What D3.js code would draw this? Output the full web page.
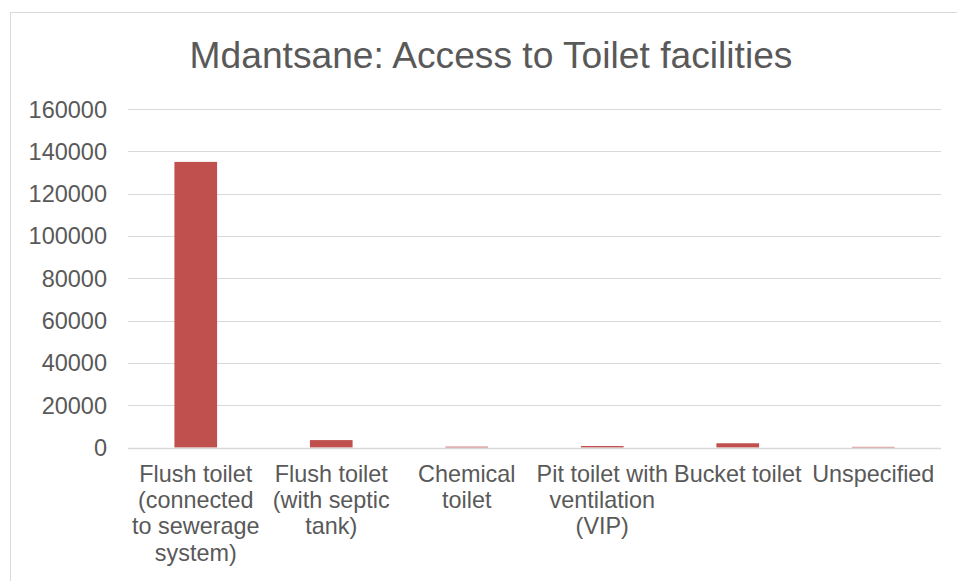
<!DOCTYPE html>
<html>
<head>
<meta charset="utf-8">
<script src="https://cdn.jsdelivr.net/npm/d3@7"></script>
<style>
  html, body { margin: 0; padding: 0; background: #fff; }
  svg { display: block; font-family: "Liberation Sans", Arial, sans-serif; }
</style>
</head>
<body>
<svg id="chart" width="957" height="581"></svg>
<script>
// Households in Mdantsane by type of toilet facility
const categories = [
  ["Flush toilet", "(connected", "to sewerage", "system)"],
  ["Flush toilet", "(with septic", "tank)"],
  ["Chemical", "toilet"],
  ["Pit toilet with", "ventilation", "(VIP)"],
  ["Bucket toilet"],
  ["Unspecified"]
];
const households = [135000, 3500, 400, 700, 2000, 300];
const yTicks = [0, 20000, 40000, 60000, 80000, 100000, 120000, 140000, 160000];
const title = "Mdantsane: Access to Toilet facilities";

const W = 957, H = 581;
const margin = { left: 128, right: 16, top: 109, bottom: H - 447.5 };
const svg = d3.select("#chart");

// outer chart frame
svg.append("rect")
  .attr("x", 10.5).attr("y", 12.5)
  .attr("width", W).attr("height", H)
  .attr("fill", "#fff").attr("stroke", "#d9d9d9").attr("stroke-width", 1);

const keys = categories.map((c, i) => i);
const x = d3.scaleBand()
  .domain(keys)
  .range([margin.left, W - margin.right])
  .paddingInner(0.685).paddingOuter(0.3425);

const y = d3.scaleLinear()
  .domain([0, 160000])
  .range([H - margin.bottom, margin.top]);

// horizontal gridlines
svg.append("g")
  .selectAll("line")
  .data(yTicks.filter(t => t > 0))
  .join("line")
  .attr("x1", margin.left).attr("x2", W - margin.right)
  .attr("y1", d => Math.round(y(d)) + 0.5).attr("y2", d => Math.round(y(d)) + 0.5)
  .attr("stroke", "#d9d9d9").attr("stroke-width", 1);

// y axis labels
const labelRight = 107;
const yAxis = d3.axisLeft(y).tickValues(yTicks).tickSize(0).tickPadding(0).tickFormat(d3.format("d"));
const gy = svg.append("g").attr("transform", `translate(${labelRight},0)`).call(yAxis);
gy.select(".domain").remove();
gy.selectAll(".tick text")
  .attr("fill", "#595959")
  .attr("dy", "0.34em")
  .style("font-size", "23.5px")
  .style("font-family", "Liberation Sans, Arial, sans-serif");

// bars
svg.append("g")
  .selectAll("rect")
  .data(households)
  .join("rect")
  .attr("x", (d, i) => x(i))
  .attr("width", x.bandwidth())
  .attr("y", d => y(d))
  .attr("height", d => y(0) - y(d))
  .attr("fill", "#c0504d");

// baseline
svg.append("line")
  .attr("x1", margin.left).attr("x2", W - margin.right)
  .attr("y1", Math.round(y(0)) + 0.5).attr("y2", Math.round(y(0)) + 0.5)
  .attr("stroke", "#d9d9d9").attr("stroke-width", 1.5);

// category labels, wrapped over several lines
const xAxis = d3.axisBottom(x).tickSize(0).tickFormat(() => "");
const gx = svg.append("g").attr("transform", `translate(0,${y(0)})`).call(xAxis);
gx.select(".domain").remove();
gx.selectAll(".tick text").remove();
gx.selectAll(".tick").each(function(d) {
  const t = d3.select(this).append("text")
    .attr("text-anchor", "middle")
    .attr("fill", "#595959")
    .style("font-size", "23.4px")
    .style("font-family", "Liberation Sans, Arial, sans-serif");
  categories[d].forEach((line, j) => {
    t.append("tspan").attr("x", 0).attr("y", 34.5 + j * 26.2).text(line);
  });
});

// title
svg.append("text")
  .attr("x", 491).attr("y", 68)
  .attr("text-anchor", "middle")
  .attr("fill", "#595959")
  .style("font-size", "37.2px")
  .text(title);
</script>
</body>
</html>
